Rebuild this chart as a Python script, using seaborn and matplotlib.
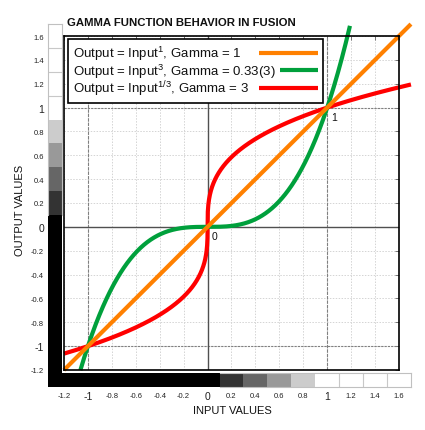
import numpy as np
import pandas as pd
import matplotlib
matplotlib.use("Agg")
import matplotlib.pyplot as plt
import seaborn as sns
from matplotlib.legend_handler import HandlerLine2D

# --- chart data ---
series_labels = [r"Output = Input$^{1}$, Gamma = 1",
                 r"Output = Input$^{3}$, Gamma = 0.33(3)",
                 r"Output = Input$^{1/3}$, Gamma = 3"]
exponents = [1.0, 3.0, 1.0 / 3.0]
series_colors = ["#ff8000", "#00a03c", "#ff0000"]
input_start = [-1.2, -1.063, -1.2]
input_end = [1.7, 1.19, 1.7]

tick_values = [-1.2, -1.0, -0.8, -0.6, -0.4, -0.2, 0.0, 0.2, 0.4, 0.6, 0.8, 1.0, 1.2, 1.4, 1.6]
tick_labels = ["-1.2", "-1", "-0.8", "-0.6", "-0.4", "-0.2", "0", "0.2", "0.4", "0.6",
               "0.8", "1", "1.2", "1.4", "1.6"]
big_labels = ["-1", "0", "1"]

# gray ramp cells along both axes (cell centres and gray level)
ramp_centers = [-1.2, -1.0, -0.8, -0.6, -0.4, -0.2, 0.0, 0.2, 0.4, 0.6, 0.8, 1.0, 1.2, 1.4, 1.6]
ramp_gray = [0, 0, 0, 0, 0, 0, 0, 0.2, 0.4, 0.6, 0.8, 1, 1, 1, 1]

point_text = ["0", "1"]
point_x = [0.0, 1.0]
point_y = [0.0, 1.0]

# --- layout (pixels) ---
FIG_W, FIG_H = 425, 431
AX_L, AX_B, AX_W, AX_H = 64, 60, 335, 334
XLIM = (-1.2, 1.6)
YLIM = (-1.2, 1.6)


def fx(v):
    return AX_L + (v - XLIM[0]) / (XLIM[1] - XLIM[0]) * AX_W


def fy(v):
    return AX_B + (v - YLIM[0]) / (YLIM[1] - YLIM[0]) * AX_H


sns.set_theme(style="white")
plt.rcParams["font.family"] = ["Liberation Sans", "DejaVu Sans"]
plt.rcParams["mathtext.fontset"] = "custom"
plt.rcParams["mathtext.rm"] = "Liberation Sans"
plt.rcParams["mathtext.it"] = "Liberation Sans:italic"
plt.rcParams["mathtext.bf"] = "Liberation Sans:bold"

fig = plt.figure(figsize=(FIG_W / 100, FIG_H / 100), dpi=100)
fig.patch.set_facecolor("white")
ax = fig.add_axes([AX_L / FIG_W, AX_B / FIG_H, AX_W / FIG_W, AX_H / FIG_H])

# grid and reference lines
ax.set_xticks(tick_values)
ax.set_yticks(tick_values)
ax.grid(True, color="#d4d4d4", ls=(0, (1.5, 1.5)), lw=0.7)
for v in [-1.0, 1.0]:
    ax.axvline(v, color="#808080", lw=0.8, ls=(0, (3, 1)), zorder=1)
    ax.axhline(v, color="#808080", lw=0.8, ls=(0, (2, 1)), zorder=1)
ax.axvline(0, color="#505050", lw=1.0, zorder=1)
ax.axhline(0, color="#505050", lw=1.0, zorder=1)

# curves: draw order red, green, orange (orange on top)
lines = {}
for i in [2, 1, 0]:
    x = np.linspace(input_start[i], input_end[i], 2001)
    x = np.sort(np.append(x, 0.0))
    y = np.sign(x) * np.abs(x) ** exponents[i]
    df = pd.DataFrame({"input": x, "output": y})
    sns.lineplot(data=df, x="input", y="output", color=series_colors[i], lw=3.0,
                 sort=False, estimator=None, ax=ax, clip_on=False,
                 solid_capstyle="butt")
    lines[i] = ax.lines[-1]

ax.set_xlim(XLIM)
ax.set_ylim(YLIM)

ax.set_xticklabels(tick_labels)
ax.set_yticklabels(tick_labels)
ax.tick_params(axis="both", direction="in", length=3, width=0.6, color="#606060",
               top=True, right=True, labelcolor="#222222")
ax.tick_params(axis="y", pad=14.4)
ax.tick_params(axis="x", pad=18.5)
for lab in ax.get_xticklabels():
    lab.set_fontsize(7.5 if lab.get_text() in big_labels else 5.5)
    lab.set_va("center")
for lab in ax.get_yticklabels():
    lab.set_fontsize(7.5 if lab.get_text() in big_labels else 5.5)

for s in ax.spines.values():
    s.set_visible(True)
    s.set_color("black")
    s.set_linewidth(1.2)

# point labels
for t, px, py in zip(point_text, point_x, point_y):
    ax.annotate(t, xy=(px, py), xytext=(3, -3), textcoords="offset points",
                ha="left", va="top", fontsize=7.5, color="#111111")

ax.set_xlabel("INPUT VALUES", fontsize=8, color="#111111")
ax.xaxis.set_label_coords((232 - AX_L) / AX_W, (431 - 406 - AX_B) / AX_H)
ax.xaxis.label.set_va("top")
ax.set_ylabel("OUTPUT VALUES", fontsize=8, color="#111111")
ax.yaxis.set_label_coords((25 - AX_L) / AX_W, (431 - 210 - AX_B) / AX_H)

fig.text(67 / FIG_W, 1 - 23 / FIG_H, "GAMMA FUNCTION BEHAVIOR IN FUSION",
         fontsize=8.2, fontweight="bold", ha="left", va="center", color="#111111")


# legend: text left, sample line at right
class LongLine(HandlerLine2D):
    def __init__(self, extra_em=0.0, **kw):
        super().__init__(**kw)
        self.extra_em = extra_em

    def create_artists(self, legend, orig_handle, xdescent, ydescent, width,
                       height, fontsize, trans):
        arts = super().create_artists(legend, orig_handle, xdescent, ydescent,
                                      width, height, fontsize, trans)
        for a in arts:
            xd = np.asarray(a.get_xdata(), dtype=float).copy()
            if xd.size:
                xd[0] -= self.extra_em * fontsize
                a.set_xdata(xd)
        return arts


LEG_FS = 9.5
handles = [lines[0], lines[1], lines[2]]
leg = ax.legend(handles, series_labels, loc="upper left",
                bbox_to_anchor=((68 - AX_L) / AX_W, 1 - 3 / AX_H),
                borderaxespad=0, markerfirst=False, fontsize=LEG_FS,
                handlelength=2.85, handletextpad=0.3, borderpad=0.4,
                labelspacing=-0.08, fancybox=False, framealpha=1,
                edgecolor="black",
                handler_map={lines[0]: LongLine(1.6), lines[2]: LongLine(1.6)})
leg.get_frame().set_linewidth(1.2)
for t in leg.get_texts():
    t.set_color("#111111")

# equalise row widths so the labels sit left and the samples sit right
renderer = fig.canvas.get_renderer()
widths = [t.get_window_extent(renderer).width * 72 / fig.dpi for t in leg.get_texts()]
column = leg._legend_handle_box.get_children()[0]
for item, w in zip(column.get_children(), widths):
    item.sep = 0.3 * LEG_FS + (max(widths) - w)


# gray ramps along both axes
def ramp(rax, values):
    sns.heatmap(values, ax=rax, cmap="gray", vmin=0, vmax=1, cbar=False,
                xticklabels=False, yticklabels=False, rasterized=True)
    rax.set_facecolor("black")
    for s in rax.spines.values():
        s.set_visible(True)
        s.set_color("#c0c0c0")
        s.set_linewidth(0.8)


gray = np.array(ramp_gray, dtype=float)
n = len(gray)
n_dark = int(np.sum(gray <= 0))

# left ramp runs down to the bottom of the lower ramp
lo_y = -1.34
ext_y = (ramp_centers[0] - 0.1 - lo_y) / 0.2
lax = fig.add_axes([48 / FIG_W, fy(lo_y) / FIG_H, 14 / FIG_W,
                    (fy(1.7) - fy(lo_y)) / FIG_H])
left_vals = gray[::-1]
ramp(lax, left_vals.reshape(-1, 1))
lax.set_ylim(n + ext_y, 0)
lax.spines["bottom"].set_visible(False)
lax.spines["left"].set_bounds(0, n - n_dark)
lax.spines["right"].set_bounds(0, n - n_dark)
for k in range(1, n):
    if left_vals[k - 1] >= 1 and left_vals[k] >= 1:
        lax.axhline(k, color="#c8c8c8", lw=0.8)

# lower ramp starts at the right edge of the left ramp
lo_x = XLIM[0] - 2 / (AX_W / (XLIM[1] - XLIM[0]))
ext_x = (ramp_centers[0] - 0.1 - lo_x) / 0.2
bax = fig.add_axes([62 / FIG_W, 43 / FIG_H, (fx(1.7) - 62) / FIG_W, 14 / FIG_H])
ramp(bax, gray.reshape(1, -1))
bax.set_xlim(-ext_x, n)
bax.spines["left"].set_visible(False)
bax.spines["top"].set_bounds(n_dark, n)
bax.spines["bottom"].set_bounds(n_dark, n)
for k in range(1, n):
    if gray[k - 1] >= 1 and gray[k] >= 1:
        bax.axvline(k, color="#c8c8c8", lw=0.8)

fig.savefig("out.png", dpi=100)
